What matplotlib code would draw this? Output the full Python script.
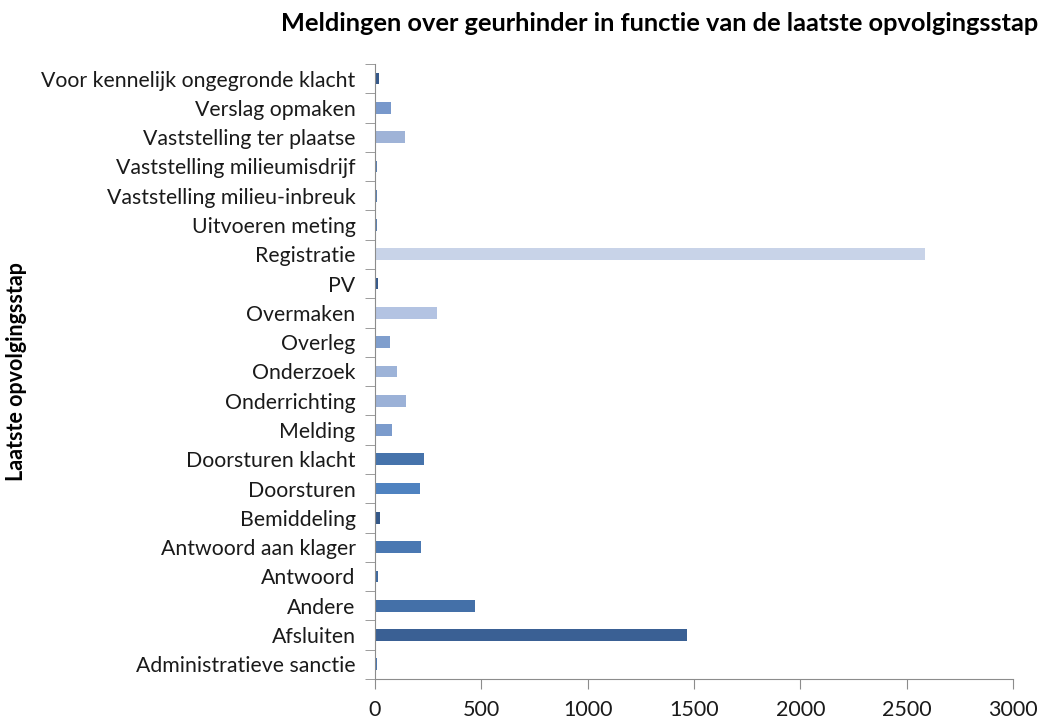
import matplotlib
matplotlib.use("Agg")
import matplotlib.pyplot as plt
import numpy as np

plt.rcParams['font.family'] = ['Lato', 'DejaVu Sans']

# categories from bottom to top
stappen = ['Administratieve sanctie', 'Afsluiten', 'Andere', 'Antwoord',
           'Antwoord aan klager', 'Bemiddeling', 'Doorsturen', 'Doorsturen klacht',
           'Melding', 'Onderrichting', 'Onderzoek', 'Overleg', 'Overmaken', 'PV',
           'Registratie', 'Uitvoeren meting', 'Vaststelling milieu-inbreuk',
           'Vaststelling milieumisdrijf', 'Vaststelling ter plaatse',
           'Verslag opmaken', 'Voor kennelijk ongegronde klacht']
aantal = [7, 1466, 472, 15, 217, 24, 213, 228,
          81, 144, 103, 71, 291, 13,
          2586, 8, 7,
          8, 139,
          76, 20]
kleuren = ['#4a76b0', '#3a6094', '#4470a8', '#3f6aa0',
           '#4a78b2', '#345888', '#4f82c0', '#4673ab',
           '#7b9bcc', '#9bb1d7', '#9db3d8', '#7f9ecd', '#b3c3e2', '#36598a',
           '#c8d3e8', '#5b80b0', '#5b80b0',
           '#5b80b0', '#9fb3d7',
           '#7898cb', '#36598a']

fig = plt.figure(figsize=(10.54, 7.22), dpi=100)
ax = fig.add_axes([0.3558, 0.0596, 0.6053, 0.8518])

ind = np.arange(len(stappen))
ax.barh(ind, aantal, height=0.4, color=kleuren, linewidth=0)

ax.set_xlim(0, 3000)
ax.set_ylim(-0.5, len(stappen) - 0.5)
ax.set_xticks(np.arange(0, 3001, 500))
ax.set_yticks(ind)
ax.set_yticklabels(stappen, fontsize=15.3, color='#1a1a1a')
ax.set_yticks(np.arange(-0.5, len(stappen), 1), minor=True)
ax.tick_params(axis='y', which='major', length=0, pad=14)
ax.tick_params(axis='y', which='minor', length=7, color='#8c8c8c', direction='out')
ax.tick_params(axis='x', length=7, color='#8c8c8c', labelsize=15.5, pad=8, labelcolor='#1a1a1a')

for s in ['top', 'right']:
    ax.spines[s].set_visible(False)
for s in ['left', 'bottom']:
    ax.spines[s].set_color('#8c8c8c')

ax.set_ylabel('Laatste opvolgingsstap', fontsize=15.5, fontweight='bold')
ax.yaxis.set_label_coords(-0.545, 0.5)
fig.text(0.626, 0.968, 'Meldingen over geurhinder in functie van de laatste opvolgingsstap',
         ha='center', va='center', fontsize=18.3, fontweight='bold')

fig.savefig('out.png', dpi=100)
